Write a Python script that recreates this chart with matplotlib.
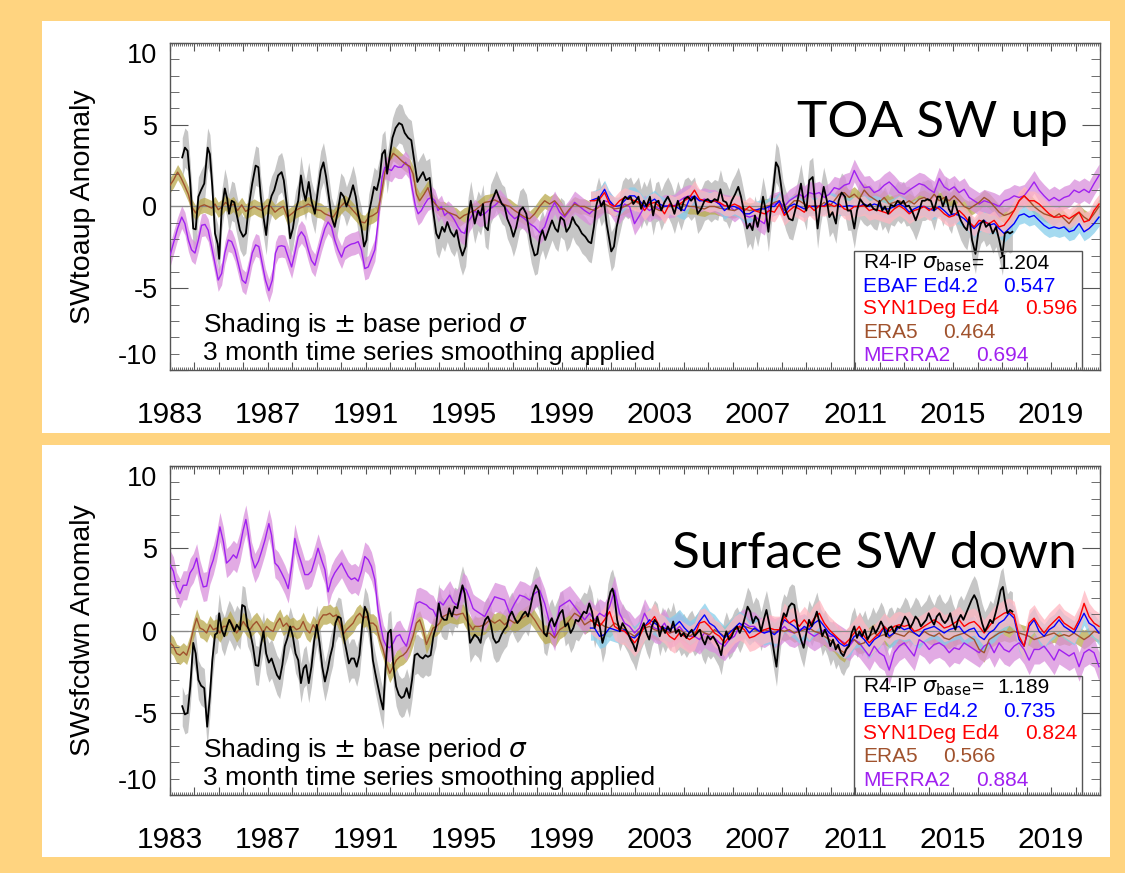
import numpy as np
import matplotlib.pyplot as plt
from matplotlib.patches import Rectangle
from matplotlib.ticker import MultipleLocator

plt.rcParams["font.family"] = ["Liberation Sans", "DejaVu Sans"]
plt.rcParams["mathtext.fontset"] = "dejavusans"

# ---------------------------------------------------------------
# reading grids (decimal years) for the evenly spaced readings
# ---------------------------------------------------------------
grid_a = np.linspace(1995.45, 2007.90, 62)
grid_b = np.linspace(2008.10, 2020.96, 64)
grid_late = np.concatenate([grid_a, grid_b])
grid_ceres = np.concatenate([[2000.18], grid_a[24:], grid_b])
grid_sfc_early = np.linspace(1983.0, 1995.38, 92)

# ===============================================================
# TOA SW up
# ===============================================================
toa_r4ip = [
    (1983.50, 3.0), (1983.61, 3.6), (1983.72, 3.4), (1983.82, 1.6), (1983.95, -1.35), (1984.05, -1.4),
    (1984.16, 0.6), (1984.27, 1.0), (1984.40, 1.4), (1984.54, 3.6), (1984.63, 3.2), (1984.73, 1.2),
    (1984.84, -1.65), (1984.95, -2.3), (1985.01, -3.2), (1985.11, -0.25), (1985.24, 1.1), (1985.34, 0.45),
    (1985.41, -0.45), (1985.52, 0.35), (1985.63, 0.25), (1985.72, -0.45), (1985.86, -1.45), (1985.99, -1.85),
    (1986.10, -1.65), (1986.22, 0.0), (1986.36, 1.4), (1986.50, 2.5), (1986.61, 2.4), (1986.71, 0.6),
    (1986.82, -0.65), (1986.93, -1.75), (1987.04, 0.0), (1987.15, 0.65), (1987.26, 1.0), (1987.42, 1.9),
    (1987.56, 2.1), (1987.65, 1.6), (1987.78, 0.0), (1987.91, -1.95), (1988.02, -1.35), (1988.13, -0.25),
    (1988.24, 0.35), (1988.35, 1.9), (1988.44, 1.0), (1988.54, 0.35), (1988.67, 1.5), (1988.78, 0.35),
    (1988.92, -0.45), (1989.05, 1.05), (1989.16, 2.2), (1989.27, 2.7), (1989.38, 1.8), (1989.49, 0.6),
    (1989.60, -0.65), (1989.73, -1.25), (1989.84, -0.45), (1989.98, 0.85), (1990.10, 0.6), (1990.21, 0.0),
    (1990.35, 0.6), (1990.48, 1.3), (1990.59, 0.6), (1990.69, -0.45), (1990.82, -1.25), (1990.93, -2.45),
    (1991.03, -2.05), (1991.12, -0.45), (1991.23, 0.35), (1991.34, 1.2), (1991.45, 1.0), (1991.57, 1.8),
    (1991.67, 3.2), (1991.78, 3.45), (1991.87, 2.0), (1991.99, 3.2), (1992.09, 4.2), (1992.22, 4.8),
    (1992.36, 5.1), (1992.48, 5.0), (1992.59, 4.5), (1992.73, 4.2), (1992.86, 4.05), (1992.97, 2.9),
    (1993.11, 1.5), (1993.22, 1.8), (1993.34, 2.1), (1993.46, 1.6), (1993.61, 1.75), (1993.75, -0.25),
    (1993.88, -1.65), (1993.98, -1.95), (1994.12, -1.25), (1994.22, -1.55), (1994.33, -0.95), (1994.47, -1.55),
    (1994.61, -1.85), (1994.71, -1.45), (1994.84, -2.45), (1994.95, -3.0), (1995.08, -2.45), (1995.18, -0.65),
    (1995.29, 0.35), (1995.39, -0.55),
    (1995.45, -1.05), (1995.59, -0.25), (1995.69, -0.55), (1995.79, 0.15), (1995.88, -1.25), (1995.99, -1.45),
    (1996.10, 0.15), (1996.24, 0.65), (1996.33, 1.0), (1996.43, 0.6), (1996.56, 0.15), (1996.67, 0.0),
    (1996.78, -0.75), (1996.92, -1.25), (1997.03, -1.85), (1997.15, -1.25), (1997.29, -0.25), (1997.42, -0.05),
    (1997.56, -0.45), (1997.65, -1.25), (1997.76, -2.25), (1997.90, -3.0), (1998.01, -2.9), (1998.12, -1.85),
    (1998.22, -1.45), (1998.33, -2.05), (1998.47, -1.45), (1998.61, -0.85), (1998.74, -1.35), (1998.85, -1.55),
    (1998.96, -0.65), (1999.10, -0.85), (1999.20, -1.55), (1999.33, -1.25), (1999.45, -0.65), (1999.57, -1.05),
    (1999.69, -1.25), (1999.83, -1.65), (1999.97, -1.85), (2000.10, -2.15), (2000.21, -2.25), (2000.32, -1.25),
    (2000.41, 0.0), (2000.51, 0.6), (2000.62, 0.0), (2000.73, 0.35), (2000.84, -1.05), (2000.95, -2.05),
    (2001.03, -2.75), (2001.14, -2.45), (2001.25, -1.25), (2001.37, -0.45), (2001.49, 0.35), (2001.60, 0.6),
    (2001.71, 0.45), (2001.82, 0.6), (2001.93, 0.15), (2002.03, 0.35), (2002.14, 0.6), (2002.25, -0.15),
    (2002.36, 0.35), (2002.47, 0.0), (2002.61, 0.6), (2002.74, -0.55), (2002.85, 0.25), (2002.96, 0.35),
    (2003.07, -0.25), (2003.20, 0.25), (2003.34, 0.6), (2003.48, 0.15), (2003.61, -0.45), (2003.75, 0.35),
    (2003.88, -0.25), (2004.02, 0.45), (2004.16, 0.6), (2004.29, 0.35), (2004.43, 0.6), (2004.56, -0.45),
    (2004.70, -0.15), (2004.84, 0.35), (2004.97, 0.45), (2005.11, 0.25), (2005.25, 0.45), (2005.38, 0.35),
    (2005.49, 1.05), (2005.60, 0.35), (2005.73, 0.25), (2005.84, -0.15), (2005.95, 0.35), (2006.09, 0.75),
    (2006.22, 1.2), (2006.33, 0.6), (2006.47, -0.45), (2006.58, -1.35), (2006.69, -1.05), (2006.80, -1.45),
    (2006.90, -0.55), (2007.01, -1.25), (2007.12, -0.45), (2007.23, 0.6), (2007.34, -0.25), (2007.45, -1.55),
    (2007.56, 0.0), (2007.67, 1.4), (2007.76, 2.7), (2007.86, 2.4), (2007.94, 1.6), (2008.05, 0.35),
    (2008.16, -0.25), (2008.29, -0.75),
    (2008.44, -0.85), (2008.64, 0.35), (2008.78, 1.4), (2008.89, 0.35), (2009.00, -0.25), (2009.12, 1.6),
    (2009.26, 1.8), (2009.35, 0.35), (2009.46, -1.35), (2009.57, 0.0), (2009.71, 1.2), (2009.84, 0.35),
    (2009.94, -0.65), (2010.07, -0.35), (2010.21, -1.05), (2010.32, 0.35), (2010.44, 0.85), (2010.58, 0.6),
    (2010.69, -0.25), (2010.82, -0.25), (2010.96, -1.35), (2011.07, -0.25), (2011.20, 0.45), (2011.34, 0.15),
    (2011.47, 0.0), (2011.61, 0.15), (2011.75, -0.15), (2011.88, -0.25), (2011.99, 0.35), (2012.10, -0.25),
    (2012.21, 0.0), (2012.34, -0.45), (2012.45, 0.1), (2012.59, 0.0), (2012.73, 0.35), (2012.86, 0.15),
    (2012.97, 0.35), (2013.08, 0.0), (2013.19, 0.05), (2013.34, -0.35), (2013.47, -0.85), (2013.61, -0.25),
    (2013.73, 0.35), (2013.84, 0.35), (2013.95, 0.45), (2014.09, 0.35), (2014.22, -0.25), (2014.36, 0.6),
    (2014.47, 0.6), (2014.58, 0.0), (2014.71, 0.6), (2014.82, -0.15), (2014.93, -0.45), (2015.04, 0.35),
    (2015.17, -0.25), (2015.31, -0.85), (2015.45, -1.25), (2015.56, -1.45), (2015.66, -0.65), (2015.77, -2.05),
    (2015.91, -2.9), (2016.02, -1.65), (2016.13, -1.05), (2016.24, -0.85), (2016.34, -1.25), (2016.48, -1.05),
    (2016.62, -1.65), (2016.75, -1.25), (2016.88, -2.05), (2017.01, -3.0), (2017.11, -1.65), (2017.22, -1.55),
    (2017.32, -1.65), (2017.42, -1.55),
]

toa_era5_early = [
    (1983.00, 1.3), (1983.14, 1.6), (1983.31, 2.1), (1983.45, 1.75), (1983.59, 1.3), (1983.75, 0.75),
    (1983.88, 0.0), (1984.05, -0.4), (1984.22, 0.0), (1984.40, 0.1), (1984.56, 0.0), (1984.70, -0.1),
    (1984.84, 0.15), (1984.97, -0.2), (1985.14, 0.0), (1985.27, 0.25), (1985.45, 0.0), (1985.59, 0.15),
    (1985.76, -0.25), (1985.93, 0.1), (1986.09, -0.3), (1986.27, -0.15), (1986.44, 0.0), (1986.61, -0.15),
    (1986.77, -0.25), (1986.95, 0.05), (1987.12, 0.0), (1987.29, -0.35), (1987.45, -0.15), (1987.63, 0.0),
    (1987.80, -0.65), (1987.97, -0.45), (1988.13, -0.25), (1988.31, -0.1), (1988.48, 0.0), (1988.65, 0.15),
    (1988.81, 0.0), (1988.99, -0.2), (1989.16, -0.25), (1989.33, -0.45), (1989.49, -0.55), (1989.67, -0.65),
    (1989.84, -0.25), (1990.01, 0.05), (1990.14, 0.25), (1990.31, 0.05), (1990.48, -0.25), (1990.66, -0.55),
    (1990.82, -0.95), (1990.96, -1.0), (1991.12, -0.65), (1991.29, -0.55), (1991.48, -0.35), (1991.61, 0.55),
    (1991.78, 2.1), (1991.94, 2.7), (1992.12, 3.25), (1992.29, 3.05), (1992.46, 2.8), (1992.62, 2.6),
    (1992.80, 2.45), (1992.93, 2.0), (1993.07, 0.75), (1993.20, 0.35), (1993.38, 0.75), (1993.54, 1.15),
    (1993.68, 0.45), (1993.84, 0.15), (1994.02, -0.15), (1994.20, -0.15), (1994.36, -0.35), (1994.52, -0.45),
    (1994.70, -0.55), (1994.84, -0.75), (1995.01, -0.55), (1995.18, -0.45), (1995.39, -0.25),
]
toa_era5_late = [
    -0.25, 0.0, 0.25, 0.3, 0.4, 0.25, 0.1, 0.0, -0.25, -0.45,
    -0.65, -0.75, -0.45, 0.0, 0.35, 0.15, 0.35, 0.0, -0.55, -0.15,
    0.15, 0.0, 0.0, -0.15, -0.25, 0.0, 0.15, 0.0, -0.15, -0.1,
    0.0, 0.15, 0.35, 0.15, 0.0, 0.15, -0.1, -0.25, 0.0, 0.0,
    0.0, 0.15, 0.1, 0.0, 0.0, -0.1, -0.15, 0.0, 0.0, -0.1,
    -0.15, -0.2, -0.25, -0.1, -0.15, -0.25, -0.2, -0.25, 0.0, 0.05,
    0.25, 0.35,
    -0.25, 0.05, 0.35, 0.35, 0.15, 0.0, 0.05, 0.0, 0.25, 0.0,
    0.35, 0.75, 0.85, 0.55, 0.75, 0.45, 1.0, 0.65, 0.45, 0.25,
    0.55, 0.15, 0.25, 0.35, 0.15, 0.35, 0.15, 0.45, 0.55, 0.35,
    0.75, 0.35, 0.55, 0.35, 0.65, 0.35, 0.0, -0.15, 0.05, 0.25,
    0.55, 0.35, 0.0, -0.35, -0.55, -0.45, -0.25, 0.35, 0.65, 0.35,
    0.0, -0.25, -0.45, -0.55, -0.65, -0.45, -0.75, -1.05, -0.65, -0.35,
    -0.65, -0.85, -0.45, 0.0,
]

toa_merra2_early = [
    (1983.00, -3.0), (1983.14, -2.25), (1983.31, -1.35), (1983.48, -0.65), (1983.61, -1.05), (1983.75, -2.05),
    (1983.88, -2.65), (1984.02, -2.85), (1984.16, -2.05), (1984.29, -1.15), (1984.43, -1.1), (1984.56, -1.45),
    (1984.70, -2.45), (1984.84, -3.5), (1984.97, -4.5), (1985.11, -4.1), (1985.24, -2.85), (1985.38, -2.05),
    (1985.52, -2.15), (1985.65, -2.65), (1985.79, -3.5), (1985.95, -4.5), (1986.09, -4.7), (1986.22, -3.9),
    (1986.36, -2.85), (1986.50, -2.35), (1986.63, -2.45), (1986.77, -3.5), (1986.90, -4.5), (1987.04, -5.15),
    (1987.18, -4.5), (1987.31, -2.85), (1987.42, -2.45), (1987.56, -2.4), (1987.69, -2.45), (1987.83, -3.1),
    (1987.97, -3.7), (1988.10, -2.85), (1988.24, -1.85), (1988.37, -1.55), (1988.51, -1.85), (1988.65, -2.65),
    (1988.78, -3.3), (1988.92, -3.6), (1989.05, -2.85), (1989.19, -2.05), (1989.33, -1.35), (1989.46, -0.95),
    (1989.60, -1.25), (1989.73, -2.05), (1989.87, -2.65), (1990.01, -3.1), (1990.14, -2.55), (1990.28, -2.4),
    (1990.41, -2.3), (1990.55, -2.25), (1990.69, -2.15), (1990.82, -2.65), (1990.96, -3.8), (1991.10, -3.7),
    (1991.23, -3.2), (1991.37, -2.65), (1991.48, -1.25), (1991.57, 0.35), (1991.67, 1.8), (1991.78, 2.4),
    (1991.91, 2.3), (1992.05, 2.2), (1992.18, 2.5), (1992.32, 2.4), (1992.46, 2.4), (1992.62, 2.7),
    (1992.76, 2.4), (1992.89, 1.15), (1993.03, 0.0), (1993.14, -0.45), (1993.27, -0.25), (1993.41, 0.15),
    (1993.54, 0.45), (1993.68, 0.55), (1993.82, 0.35), (1993.95, -0.25), (1994.09, 0.0), (1994.22, -0.55),
    (1994.36, -0.35), (1994.50, -0.55), (1994.63, -0.85), (1994.77, -1.25), (1994.90, -1.55), (1995.04, -1.65),
    (1995.18, -0.95), (1995.31, -0.65),
]
toa_merra2_late = [
    -0.25, -0.55, -0.45, -0.15, 0.05, 0.35, 0.0, -0.45, -0.75, -0.55,
    -0.75, -1.05, -1.25, -1.6, -1.25, -0.35, 0.25, -0.35, -0.65, -0.25,
    0.25, 0.0, -0.25, -0.45, -0.15, 0.05, 0.35, 0.25, -0.25, -0.35,
    0.15, 0.0, -1.05, -0.55, 0.0, -0.25, 0.0, -0.15, 0.05, 0.0,
    0.05, 0.35, 0.55, 0.65, 0.55, 0.35, 0.45, 0.35, 0.35, 0.15,
    0.05, 0.0, -0.25, 0.0, -0.55, -0.65, -0.55, -0.85, -1.05, 0.0,
    0.15, 0.25,
    0.0, 0.35, 0.55, 0.75, 0.55, 0.85, 0.75, 0.85, 0.55, 0.75,
    1.15, 1.05, 1.3, 1.4, 2.2, 1.6, 1.15, 1.2, 0.85, 1.0,
    1.3, 1.5, 1.2, 0.85, 0.75, 1.0, 1.2, 1.4, 1.3, 1.05,
    0.85, 1.7, 1.2, 1.0, 1.2, 0.85, 1.05, 0.55, 0.35, 0.15,
    0.35, 0.25, 0.15, 0.0, 0.35, 0.45, 0.65, 0.55, 0.65, 1.05,
    1.5, 1.0, 0.65, 0.35, 0.55, 0.35, 0.55, 0.65, 1.0, 0.85,
    1.05, 0.85, 1.4, 1.9,
]

toa_ebaf = [
    0.35,
    0.45, 0.55, 1.05, 0.35, 0.0, 0.05, 0.35, 0.65, 0.65, 0.35,
    0.0, 0.25, 0.45, 0.15, 0.0, 0.05, 0.05, -0.15, -0.25, 0.45,
    0.65, 0.35, 0.35, 0.35, 0.35, 0.15, -0.25, 0.0, 0.0, -0.15,
    -0.45, -0.45, -0.25, -0.15, -0.15, 0.0, 0.0, 0.35,
    -0.45, 0.0, 0.15, 0.0, -0.15, 0.0, 0.0, 0.0, 0.05, 0.35,
    0.25, 0.0, 0.0, 0.05, 0.0, 0.0, 0.15, 0.0, 0.15, 0.05,
    -0.15, -0.15, 0.0, 0.15, 0.0, -0.35, -0.15, 0.0, 0.0, -0.15,
    -0.25, 0.0, -0.25, -0.55, -0.45, -0.55, -0.75, -1.05, -1.35, -1.05,
    -0.85, -1.15, -1.05, -1.35, -1.65, -1.35, -1.05, -0.55, -0.45, -0.65,
    -0.55, -0.85, -1.15, -1.35, -1.25, -1.35, -1.25, -1.55, -1.45, -1.05,
    -1.55, -1.35, -1.05, -0.65,
]
toa_syn1deg = [
    0.35,
    0.35, 0.45, 0.85, 0.15, 0.0, 0.35, 0.55, 0.45, 0.35, 0.25,
    -0.25, 0.15, 0.25, 0.0, -0.45, 0.15, 0.0, 0.15, 0.35, 0.55,
    1.0, 0.45, 0.35, 0.25, 0.35, 0.25, 0.05, 0.0, 0.15, 0.0,
    -0.25, 0.0, -0.25, -0.35, -0.45, -0.25, -0.35, 0.15,
    -0.55, -0.25, 0.0, -0.15, -0.35, 0.05, -0.25, 0.05, 0.0, 0.15,
    0.0, 0.15, -0.15, -0.25, 0.0, 0.0, 0.05, -0.25, -0.15, -0.25,
    -0.35, -0.45, -0.15, 0.05, -0.15, -0.45, -0.25, -0.15, 0.0, -0.25,
    0.0, -0.15, -0.45, -0.65, -0.55, -0.25, -0.55, -0.95, -1.25, -0.85,
    -0.95, -1.05, -0.85, -1.25, -1.15, -0.75, -0.25, 0.35, 0.65, 0.35,
    0.35, 0.15, -0.15, -0.45, -0.65, -0.65, -0.55, -0.75, -0.55, -0.35,
    -0.95, -0.85, -0.25, 0.15,
]

toa_sigma = {"R4-IP": 1.204, "EBAF Ed4.2": 0.547, "SYN1Deg Ed4": 0.596, "ERA5": 0.464, "MERRA2": 0.694}

# ===============================================================
# Surface SW down
# ===============================================================
sfc_r4ip = [
    (1983.50, -4.6), (1983.61, -5.1), (1983.72, -5.0), (1983.83, -3.4), (1983.95, -0.75), (1984.05, -1.4),
    (1984.16, -3.0), (1984.27, -3.35), (1984.40, -3.5), (1984.52, -5.85), (1984.63, -4.0), (1984.73, -1.8),
    (1984.84, -0.25), (1984.93, -0.15), (1985.01, 1.05), (1985.11, 0.05), (1985.22, -0.35), (1985.33, 0.25),
    (1985.42, 0.65), (1985.52, 0.35), (1985.63, -0.05), (1985.73, 0.35), (1985.86, 0.05), (1985.95, 1.55),
    (1986.06, 1.45), (1986.17, 0.25), (1986.28, -0.15), (1986.39, -0.95), (1986.50, -2.1), (1986.61, -2.15),
    (1986.71, -0.95), (1986.82, -0.05), (1986.93, -1.4), (1987.04, -1.95), (1987.15, -1.7), (1987.26, -2.2),
    (1987.37, -2.7), (1987.48, -2.95), (1987.59, -2.1), (1987.69, -0.95), (1987.80, -0.45), (1987.91, 0.25),
    (1988.02, -0.35), (1988.13, -1.4), (1988.24, -1.8), (1988.35, -3.2), (1988.46, -2.3), (1988.56, -2.1),
    (1988.67, -3.2), (1988.78, -2.2), (1988.89, -0.65), (1989.00, 0.35), (1989.11, -0.75), (1989.22, -2.2),
    (1989.33, -3.1), (1989.44, -2.4), (1989.54, -1.6), (1989.65, -0.95), (1989.76, 0.45), (1989.87, 0.85),
    (1989.98, 0.75), (1990.09, -0.35), (1990.20, -1.15), (1990.31, -2.0), (1990.41, -1.7), (1990.52, -1.7),
    (1990.63, -2.2), (1990.74, -1.5), (1990.85, 0.25), (1990.96, 1.45), (1991.07, 1.05), (1991.18, 0.05),
    (1991.29, -1.8), (1991.39, -2.6), (1991.50, -3.4), (1991.61, -4.2), (1991.71, -4.8), (1991.80, -2.4),
    (1991.91, -0.15), (1992.02, 0.05), (1992.13, -2.2), (1992.24, -3.4), (1992.35, -3.9), (1992.46, -4.1),
    (1992.56, -4.0), (1992.67, -3.5), (1992.78, -4.1), (1992.89, -3.0), (1993.00, -1.5), (1993.11, -1.4),
    (1993.22, -1.6), (1993.33, -1.7), (1993.44, -1.5), (1993.54, -1.6), (1993.65, -1.5), (1993.76, -0.35),
    (1993.87, 0.25), (1993.98, 1.65), (1994.09, 0.85), (1994.20, 0.65), (1994.31, 0.65), (1994.41, 1.35),
    (1994.52, 0.85), (1994.63, 1.45), (1994.74, 1.35), (1994.85, 2.15), (1994.95, 2.75), (1995.04, 2.25),
    (1995.15, 0.85), (1995.26, -0.75), (1995.37, -0.45),
    (1995.45, -0.25), (1995.59, -0.45), (1995.69, -0.75), (1995.79, 0.25), (1995.88, 0.65), (1995.99, 0.85),
    (1996.10, 0.45), (1996.21, -0.45), (1996.32, -0.75), (1996.43, -0.65), (1996.54, -0.25), (1996.65, 0.05),
    (1996.76, 0.25), (1996.86, 0.85), (1996.97, 1.15), (1997.08, 0.75), (1997.19, 0.45), (1997.30, 0.65),
    (1997.41, 0.95), (1997.52, 1.15), (1997.63, 0.85), (1997.73, 1.45), (1997.84, 2.25), (1997.95, 2.75),
    (1998.06, 2.45), (1998.17, 1.45), (1998.28, -0.15), (1998.39, -0.35), (1998.50, 0.45), (1998.60, 0.75),
    (1998.71, 0.25), (1998.82, 0.65), (1998.93, 1.05), (1999.04, 1.25), (1999.15, 0.25), (1999.26, 0.45),
    (1999.37, -0.15), (1999.48, 0.15), (1999.58, 0.65), (1999.69, 0.55), (1999.80, 0.85), (1999.91, 1.15),
    (2000.02, 1.05), (2000.13, 1.65), (2000.24, 1.15), (2000.35, 0.15), (2000.46, 0.85), (2000.56, 0.25),
    (2000.67, -0.75), (2000.78, -0.15), (2000.89, 1.65), (2001.00, 2.35), (2001.08, 2.55), (2001.16, 2.05),
    (2001.27, 0.65), (2001.38, -0.05), (2001.49, 0.45), (2001.60, 0.15), (2001.71, -0.15), (2001.82, -0.55),
    (2001.93, -0.85), (2002.03, -1.25), (2002.14, -0.55), (2002.25, 0.05), (2002.36, 0.45), (2002.47, -0.15),
    (2002.58, -0.55), (2002.69, 0.25), (2002.80, 0.65), (2002.91, 0.45), (2003.01, -0.35), (2003.12, 0.25),
    (2003.23, -0.15), (2003.34, 0.25), (2003.45, -0.05), (2003.56, 0.55), (2003.67, -0.15), (2003.78, 0.05),
    (2003.88, -0.35), (2003.99, -0.15), (2004.10, -0.45), (2004.21, -0.15), (2004.32, 0.05), (2004.43, -0.35),
    (2004.54, -0.15), (2004.65, 0.05), (2004.76, -0.55), (2004.86, -0.85), (2004.97, -0.35), (2005.08, -0.55),
    (2005.19, -0.35), (2005.30, -0.65), (2005.41, -0.95), (2005.52, -1.5), (2005.63, -0.55), (2005.73, -0.05),
    (2005.84, -0.55), (2005.95, -0.35), (2006.06, 0.05), (2006.17, 0.25), (2006.28, -0.15), (2006.39, 0.25),
    (2006.50, 0.85), (2006.60, 1.45), (2006.71, 1.15), (2006.82, 0.45), (2006.93, 0.85), (2007.04, 0.65),
    (2007.15, -0.05), (2007.26, 0.65), (2007.37, 1.25), (2007.48, 0.45), (2007.58, -0.35), (2007.69, -1.4),
    (2007.78, -2.2), (2007.86, -0.95), (2007.97, 0.45), (2008.08, 1.05), (2008.18, 0.85), (2008.29, 1.45),
    (2008.40, 1.65), (2008.51, 1.55),
    (2008.64, 0.25), (2008.78, -0.55), (2008.89, -1.05), (2009.00, -0.15), (2009.11, 0.65), (2009.22, 0.25),
    (2009.32, 0.65), (2009.43, 1.15), (2009.54, 0.45), (2009.65, -0.35), (2009.76, 0.05), (2009.87, -0.35),
    (2009.98, -0.95), (2010.09, -0.55), (2010.20, -1.15), (2010.30, -0.85), (2010.41, -1.35), (2010.52, -1.55),
    (2010.63, -1.15), (2010.74, -0.95), (2010.85, -0.15), (2010.96, 0.25), (2011.07, -0.45), (2011.17, -0.05),
    (2011.28, -0.35), (2011.39, 0.05), (2011.50, -0.55), (2011.61, -0.25), (2011.72, 0.25), (2011.83, -0.15),
    (2011.94, 0.15), (2012.05, 0.55), (2012.15, 0.25), (2012.26, -0.35), (2012.37, 0.15), (2012.48, 0.25),
    (2012.59, -0.15), (2012.70, 0.25), (2012.81, 0.15), (2012.92, 0.45), (2013.03, 0.85), (2013.13, 0.65),
    (2013.24, 0.15), (2013.35, 0.45), (2013.46, 0.85), (2013.57, 0.65), (2013.68, 0.25), (2013.79, 0.45),
    (2013.90, 0.65), (2014.00, 1.05), (2014.11, 0.65), (2014.22, 0.35), (2014.33, 0.85), (2014.44, 1.05),
    (2014.55, 0.65), (2014.66, 0.45), (2014.77, 0.65), (2014.88, 1.05), (2014.98, 0.45), (2015.09, 0.05),
    (2015.20, 0.65), (2015.31, 0.95), (2015.42, 0.65), (2015.53, 1.05), (2015.64, 1.45), (2015.75, 1.85),
    (2015.86, 2.15), (2015.96, 1.85), (2016.07, 1.15), (2016.18, 0.45), (2016.29, -0.05), (2016.40, 0.25),
    (2016.51, 0.65), (2016.62, 0.45), (2016.73, 1.05), (2016.83, 1.65), (2016.94, 2.45), (2017.03, 2.65),
    (2017.11, 1.85), (2017.22, 1.05), (2017.32, 1.25), (2017.42, 1.15),
]

sfc_era5_early = [
    -0.75, -0.95, -1.4, -1.5, -1.3, -1.5, -0.85, 0.05, 0.75, 0.15,
    0.05, -0.15, 0.35, 0.05, 0.15, -0.15, 0.25, 0.25, 0.65, 0.25,
    -0.15, 0.15, 0.55, 0.25, 0.05, 0.35, 0.55, 0.25, -0.15, 0.25,
    0.05, -0.05, 0.45, 0.75, 0.25, 0.45, 0.15, 0.25, 0.05, 0.15,
    0.55, 0.05, -0.15, 0.35, 0.05, 0.65, 0.95, 0.95, 1.05, 0.85,
    0.95, 0.45, -0.25, 0.05, 0.25, 0.45, 0.85, 1.05, 0.75, 0.85,
    0.45, 0.45, 0.25, -0.55, -1.15, -2.0, -2.6, -2.2, -1.8, -1.6,
    -1.5, -1.3, -0.95, -0.35, 0.45, 0.65, 0.05, -0.85, -0.35, 0.15,
    0.25, 0.45, 0.85, 0.95, 1.05, 1.0, 0.95, 1.0, 1.05, 0.65,
    0.35, 0.05,
]
sfc_era5_late = [
    0.25, 0.25, 0.35, 0.65, 0.45, 0.65, 0.35, 0.65, 0.45, 0.65,
    0.85, 1.05, 0.65, 0.15, -0.25, -0.15, -0.45, 0.05, 0.25, 0.65,
    1.05, 0.85, 0.35, 0.55, 0.65, 0.45, 0.25, 0.15, 0.45, 0.25,
    0.05, -0.15, -0.35, -0.05, 0.15, 0.25, 0.05, -0.05, 0.05, -0.15,
    -0.05, 0.05, -0.15, -0.35, -0.15, 0.05, -0.15, -0.25, 0.05, -0.15,
    -0.35, -0.05, 0.05, 0.15, 0.25, 0.15, 0.05, -0.05, 0.05, -0.05,
    -0.15, 0.05,
    -0.05, 0.05, -0.15, -0.05, 0.05, 0.15, -0.05, -0.15, -0.35, -0.55,
    -0.75, -1.15, -1.35, -0.75, -0.55, -0.85, -0.75, -0.35, -0.15, -0.35,
    -0.25, -0.45, -0.15, -0.25, -0.35, -0.05, -0.15, -0.35, -0.05, -0.25,
    -0.35, -0.15, -0.45, -0.55, -0.35, -0.25, -0.15, -0.35, -0.55, -1.15,
    -1.35, -0.55, -0.35, -0.15, -0.05, -0.15, -0.05, -0.15, -0.25, -0.35,
    -0.55, -0.45, -0.35, -0.25, -0.15, -0.35, -0.25, -0.35, -0.15, -0.35,
    -0.55, -0.35, -0.05, -0.15,
]

sfc_merra2_early = [
    (1983.00, 4.0), (1983.14, 3.6), (1983.27, 2.65), (1983.41, 2.25), (1983.54, 2.75), (1983.68, 2.75),
    (1983.82, 3.5), (1983.95, 3.8), (1984.09, 4.4), (1984.22, 3.4), (1984.36, 2.65), (1984.50, 2.7),
    (1984.63, 3.7), (1984.77, 4.3), (1984.90, 5.1), (1985.04, 6.3), (1985.18, 5.4), (1985.31, 4.1),
    (1985.45, 4.3), (1985.59, 4.6), (1985.72, 4.4), (1985.86, 5.1), (1985.99, 6.1), (1986.10, 6.75),
    (1986.20, 5.9), (1986.33, 4.5), (1986.47, 3.8), (1986.61, 4.2), (1986.74, 4.8), (1986.88, 5.5),
    (1987.04, 6.5), (1987.15, 5.8), (1987.29, 4.1), (1987.42, 3.9), (1987.56, 3.5), (1987.69, 3.1),
    (1987.83, 2.55), (1987.97, 3.9), (1988.10, 5.6), (1988.24, 4.7), (1988.37, 4.1), (1988.51, 3.4),
    (1988.65, 3.4), (1988.78, 3.6), (1988.92, 4.3), (1989.05, 5.0), (1989.19, 4.3), (1989.33, 3.7),
    (1989.46, 2.35), (1989.60, 3.1), (1989.73, 3.5), (1989.87, 3.8), (1990.01, 4.1), (1990.14, 3.7),
    (1990.28, 3.3), (1990.41, 3.1), (1990.55, 3.2), (1990.69, 3.0), (1990.82, 3.6), (1990.96, 4.5),
    (1991.10, 4.3), (1991.23, 3.9), (1991.37, 3.1), (1991.50, 1.25), (1991.61, 0.25), (1991.72, -0.55),
    (1991.84, -0.95), (1991.98, -1.05), (1992.12, -0.75), (1992.25, -0.35), (1992.39, -0.25), (1992.52, -0.65),
    (1992.66, -0.95), (1992.80, -0.15), (1992.93, 0.65), (1993.07, 1.65), (1993.20, 1.75), (1993.34, 1.65),
    (1993.48, 1.55), (1993.61, 1.35), (1993.75, 1.25), (1993.88, 0.85), (1994.02, 1.75), (1994.16, 1.55),
    (1994.29, 1.85), (1994.43, 2.15), (1994.56, 1.75), (1994.70, 1.55), (1994.84, 1.85), (1994.97, 2.65),
    (1995.11, 2.45), (1995.24, 1.95), (1995.38, 1.35),
]
sfc_merra2_late = [
    1.25, 1.05, 0.85, 1.45, 2.05, 1.95, 1.85, 1.05, 1.65, 2.15,
    2.05, 1.85, 2.25, 2.45, 1.65, 0.45, -0.35, 1.45, 1.65, 1.85,
    1.45, 1.05, 0.65, 1.05, 0.65, 1.05, 0.85, 1.45, 2.45, 1.05,
    0.45, 0.25, -0.15, 0.15, 1.05, 0.45, 0.15, 0.05, 0.45, -0.15,
    -0.05, 0.25, -0.15, -0.35, -0.35, -0.55, -0.15, -0.35, -0.45, -0.75,
    -0.95, -0.55, -0.35, 0.25, 0.45, 0.25, 0.25, -0.05, -0.15, 0.05,
    -0.15, -0.05,
    0.25, -0.05, -0.15, 0.05, 0.15, -0.15, -0.35, -0.15, 0.05, -0.35,
    -0.35, -0.55, -0.75, -0.95, -0.55, -0.75, -1.15, -1.55, -0.95, -1.35,
    -1.55, -2.4, -1.35, -0.95, -0.75, -1.15, -1.55, -0.55, -0.75, -1.15,
    -0.85, -0.75, -0.95, -1.35, -1.05, -1.15, -0.75, -0.95, -1.15, -1.35,
    -0.95, -0.75, -1.35, -0.75, -1.15, -1.3, -0.95, -0.75, -1.15, -1.8,
    -1.15, -1.15, -0.95, -1.35, -1.8, -1.15, -1.35, -1.55, -1.35, -2.2,
    -1.35, -1.15, -1.35, -2.2,
]

sfc_ebaf = [
    0.15,
    0.15, -0.35, -0.25, 0.15, 0.05, -0.05, 0.05, -0.35, -0.45, -0.15,
    0.25, 0.65, 0.45, 0.25, 0.15, 0.05, 0.25, 0.55, 0.15, -0.15,
    0.05, 0.55, 0.95, 0.45, 0.25, -0.15, -0.45, -0.15, 0.15, 0.45,
    0.25, -0.15, 0.15, -0.05, -0.15, -0.05, -0.25, 0.05,
    0.65, 0.45, 0.25, -0.05, 0.25, 0.05, 0.45, 0.65, 0.25, -0.15,
    -0.35, -0.75, -0.95, -0.85, -0.35, -0.25, -0.55, -0.95, -0.55, -0.35,
    0.25, -0.35, -0.15, 0.25, 0.05, 0.15, -0.15, -0.35, 0.05, 0.15,
    0.25, 0.05, -0.15, 0.05, 0.15, 0.25, -0.15, 0.05, 0.15, -0.35,
    -0.55, -0.15, 0.05, 0.45, 0.65, 1.05, 0.75, -0.55, -0.95, 0.25,
    0.65, -0.05, -0.35, 0.05, 0.25, 0.65, 0.25, 0.05, -0.15, 0.45,
    1.05, 0.45, 0.25, -0.15,
]
sfc_syn1deg = [
    0.65,
    0.45, 0.25, 0.65, 1.15, 0.25, 0.05, -0.05, -0.35, -0.75, -0.35,
    0.25, 0.45, 0.85, 0.25, 0.05, -0.35, -0.55, -0.15, -0.35, -0.55,
    -0.35, 0.45, 0.55, 0.25, -0.15, -0.35, -0.75, -0.35, 0.05, 0.25,
    0.05, -0.45, -0.35, -0.15, 0.05, 0.15, 0.05, 0.05,
    0.85, 0.45, 0.65, 0.25, 0.65, 0.25, 0.75, 1.05, 0.45, 0.05,
    -0.25, -0.55, -0.85, -0.55, -0.15, 0.25, -0.35, -0.75, -0.45, -0.15,
    0.25, -0.05, 0.25, 0.35, 0.25, 0.35, -0.05, 0.05, 0.25, 0.45,
    0.65, 0.45, 0.15, 0.25, 0.45, 0.65, 0.25, 0.45, 0.55, 0.25,
    -0.15, 0.25, 0.65, 0.85, 1.05, 1.15, 0.95, -0.35, -0.95, 0.45,
    0.75, 0.25, -0.15, 0.25, 0.55, 0.85, 0.45, 0.25, 0.05, 0.65,
    1.65, 0.85, 0.45, 0.25,
]

sfc_sigma = {"R4-IP": 1.189, "EBAF Ed4.2": 0.735, "SYN1Deg Ed4": 0.824, "ERA5": 0.566, "MERRA2": 0.884}

# colours: (line, shading)
colors = {
    "R4-IP": ("black", "#bcbcbc"),
    "EBAF Ed4.2": ("#0000ff", "#87ceeb"),
    "SYN1Deg Ed4": ("#ff0000", "#ffb6c1"),
    "ERA5": ("#a0522d", "#b9a94c"),
    "MERRA2": ("#a020f0", "#d98fdc"),
}
all_years = list(range(1983, 2022))
label_years = list(range(1983, 2020, 4))
# legend value x positions (axes fraction), one per row
legend_value_x = [0.890, 0.896, 0.919, 0.831, 0.867]


def pairs(p):
    a = np.array(p)
    return a[:, 0], a[:, 1]


def build(r4, era_early, era_late, merra_early, merra_late, ebaf, syn, era_grid_early=None):
    out = {}
    out["R4-IP"] = pairs(r4)
    if era_grid_early is None:
        te, ve = pairs(era_early)
    else:
        te, ve = era_grid_early, np.array(era_early)
    out["ERA5"] = (np.concatenate([te, grid_late]), np.concatenate([ve, era_late]))
    tm, vm = pairs(merra_early)
    out["MERRA2"] = (np.concatenate([tm, grid_late]), np.concatenate([vm, merra_late]))
    out["EBAF Ed4.2"] = (grid_ceres, np.array(ebaf))
    out["SYN1Deg Ed4"] = (grid_ceres, np.array(syn))
    return out


toa = build(toa_r4ip, toa_era5_early, toa_era5_late, toa_merra2_early, toa_merra2_late,
            toa_ebaf, toa_syn1deg)
sfc = build(sfc_r4ip, sfc_era5_early, sfc_era5_late, sfc_merra2_early, sfc_merra2_late,
            sfc_ebaf, sfc_syn1deg, era_grid_early=grid_sfc_early)

fig = plt.figure(figsize=(11.25, 8.73), dpi=100, facecolor="#ffd480")
# white panels behind each plot
for y0 in (1 - 433 / 873, 1 - 857 / 873):
    fig.patches.append(Rectangle((42 / 1125, y0), 1068 / 1125, 412 / 873,
                                 transform=fig.transFigure, facecolor="white",
                                 edgecolor="none", zorder=-10))

ax1 = fig.add_axes([0.1511, 0.5762, 0.8267, 0.3746])
ax2 = fig.add_axes([0.1511, 0.0893, 0.8267, 0.3769])

panels = [
    (ax1, toa, toa_sigma, "SWtoaup Anomaly", "TOA SW up", (0.674, 0.713), 0.364),
    (ax2, sfc, sfc_sigma, "SWsfcdwn Anomaly", "Surface SW down", (0.540, 0.690), 0.362),
]

band_order = ["R4-IP", "ERA5", "MERRA2", "EBAF Ed4.2", "SYN1Deg Ed4"]
line_order = ["MERRA2", "ERA5", "EBAF Ed4.2", "SYN1Deg Ed4", "R4-IP"]
legend_order = ["R4-IP", "EBAF Ed4.2", "SYN1Deg Ed4", "ERA5", "MERRA2"]

for ax, data, sig, ylab, title, tpos, box_h in panels:
    ax.set_zorder(2)
    ax.set_facecolor("white")
    for name in band_order:
        t, v = data[name]
        ax.fill_between(t, v - sig[name], v + sig[name], color=colors[name][1],
                        alpha=0.85 if name == "R4-IP" else 0.75, linewidth=0)
    ax.axhline(0, color="#8a8a8a", lw=0.9, zorder=2)
    for name in line_order:
        t, v = data[name]
        ax.plot(t, v, color=colors[name][0], lw=1.3 if name == "R4-IP" else 1.0, zorder=3)

    ax.set_xlim(1983, 2021)
    ax.set_ylim(-10, 10)
    # yearly ticks, labelled every four years
    ax.set_xticks(all_years)
    ax.set_xticklabels([str(y) if y in label_years else "" for y in all_years])
    ax.xaxis.set_minor_locator(MultipleLocator(1 / 12))
    ax.set_yticks([-10, -5, 0, 5, 10])
    ax.set_yticklabels(["-10", "-5", "0", "5", "10"])
    ax.yaxis.set_minor_locator(MultipleLocator(1))
    ax.tick_params(axis="both", which="both", direction="in", top=True, right=True, color="#555555")
    ax.tick_params(axis="x", which="major", length=5.5, labelsize=21.5, pad=22)
    ax.tick_params(axis="x", which="minor", length=2.5)
    ax.tick_params(axis="y", which="major", length=13, labelsize=19.5, pad=9)
    ax.tick_params(axis="y", which="minor", length=6.5)
    ylabels = ax.get_yticklabels()
    ylabels[0].set_va("bottom")
    ylabels[-1].set_va("top")
    for s in ax.spines.values():
        s.set_color("#555555")
        s.set_linewidth(1.0)
    ax.set_ylabel(ylab, fontsize=20.5, labelpad=16)

    ax.text(tpos[0], tpos[1], title, transform=ax.transAxes, fontsize=37,
            family=["Lato", "DejaVu Sans"], va="baseline", ha="left")

    ax.text(0.0355, 0.138, r"Shading is $\pm$ base period $\sigma$", transform=ax.transAxes,
            fontsize=19, va="center")
    ax.text(0.0355, 0.052, "3 month time series smoothing applied", transform=ax.transAxes,
            fontsize=19, va="center")

    # sigma box
    ax.add_patch(Rectangle((0.7355, 0.0), 0.2451, box_h, transform=ax.transAxes,
                           fill=False, edgecolor="#555555", lw=1.0, zorder=5))
    row_y = [0.327, 0.255, 0.187, 0.116, 0.043]
    for i, name in enumerate(legend_order):
        c = colors[name][0]
        val = "%.3f" % sig[name]
        if name == "R4-IP":
            ax.text(0.745, row_y[i], r"R4-IP $\sigma_{\mathrm{base}}$", transform=ax.transAxes,
                    fontsize=15, color=c, va="center", zorder=6)
            ax.text(0.862, row_y[i], "=", transform=ax.transAxes, fontsize=15, color=c,
                    va="center", zorder=6)
        else:
            ax.text(0.745, row_y[i], name, transform=ax.transAxes, fontsize=15, color=c,
                    va="center", zorder=6)
        ax.text(legend_value_x[i], row_y[i], val, transform=ax.transAxes, fontsize=15, color=c,
                va="center", zorder=6)

plt.savefig("out.png", dpi=100, facecolor=fig.get_facecolor())
